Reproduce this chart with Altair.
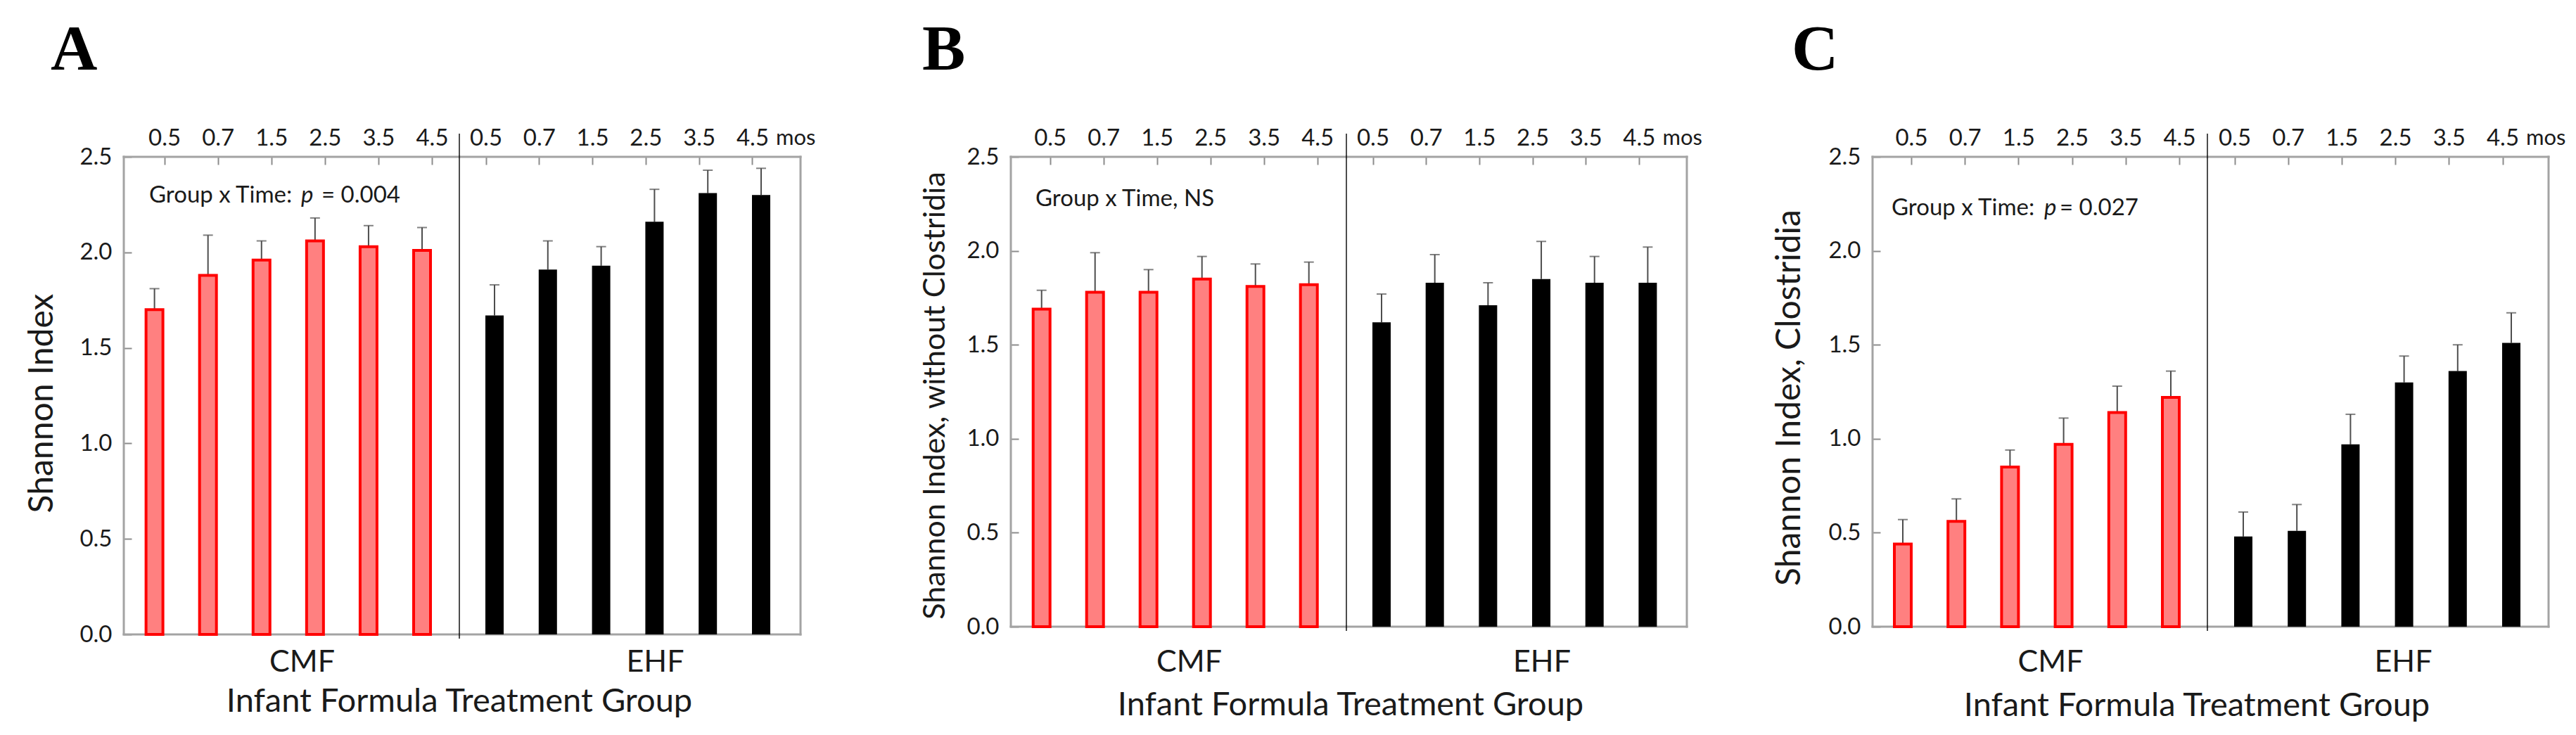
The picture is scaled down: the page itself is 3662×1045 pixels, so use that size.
import altair as alt
import pandas as pd

# ---------------- data ----------------
times = ["0.5", "0.7", "1.5", "2.5", "3.5", "4.5"]
groups = ["CMF", "EHF"]
letters = ["A", "B", "C"]
y_titles = ["Shannon Index", "Shannon Index, without Clostridia", "Shannon Index, Clostridia"]
x_title = "Infant Formula Treatment Group"
notes = [["Group x Time:", "p", "= 0.004"], ["Group x Time, NS"], ["Group x Time:", "p", "= 0.027"]]
unit_label = "mos"
y_ticks = [0.0, 0.5, 1.0, 1.5, 2.0, 2.5]

# Panel A: Shannon Index
a_cmf_mean = [1.70, 1.88, 1.96, 2.06, 2.03, 2.01]
a_cmf_err = [1.81, 2.09, 2.06, 2.18, 2.14, 2.13]
a_ehf_mean = [1.67, 1.91, 1.93, 2.16, 2.31, 2.30]
a_ehf_err = [1.83, 2.06, 2.03, 2.33, 2.43, 2.44]
# Panel B: Shannon Index, without Clostridia
b_cmf_mean = [1.69, 1.78, 1.78, 1.85, 1.81, 1.82]
b_cmf_err = [1.79, 1.99, 1.90, 1.97, 1.93, 1.94]
b_ehf_mean = [1.62, 1.83, 1.71, 1.85, 1.83, 1.83]
b_ehf_err = [1.77, 1.98, 1.83, 2.05, 1.97, 2.02]
# Panel C: Shannon Index, Clostridia
c_cmf_mean = [0.44, 0.56, 0.85, 0.97, 1.14, 1.22]
c_cmf_err = [0.57, 0.68, 0.94, 1.11, 1.28, 1.36]
c_ehf_mean = [0.48, 0.51, 0.97, 1.30, 1.36, 1.51]
c_ehf_err = [0.61, 0.65, 1.13, 1.44, 1.50, 1.67]

means = [[a_cmf_mean, a_ehf_mean], [b_cmf_mean, b_ehf_mean], [c_cmf_mean, c_ehf_mean]]
errs = [[a_cmf_err, a_ehf_err], [b_cmf_err, b_ehf_err], [c_cmf_err, c_ehf_err]]

# ---------------- styling / layout ----------------
FONT = "Lato"
TXT = "#1a1a1a"
FRAME = "#a3a3a3"
TICK = "#8c8c8c"
ERR = "#4d4d4d"
CMF_FILL = "#ff8080"
CMF_STROKE = "#ff0000"
LABEL_FS = 33

layout = [
    dict(W=[477, 485], H=679, first=[43.6, 50.0], last=[53.0, 56.0], shift=[14.0, -12.5],
         letter_dx=-104, ytx=-113, yty=350, ytfs=48, note_y=2.26, note_dx=[-7.6, 208.4, 237.4],
         grp_off=53, grp_dx=[15, 36], xt_off=110, xt_dx=0, gap_after=299),
    dict(W=[477, 484], H=668, first=[43.7, 50.0], last=[53.3, 55.6], shift=[12.0, -12.5],
         letter_dx=-126, ytx=-106, yty=339, ytfs=43, note_y=2.238, note_dx=[-8.7],
         grp_off=64, grp_dx=[15, 36], xt_off=126, xt_dx=6, gap_after=264),
    dict(W=[476, 485], H=668, first=[43.0, 51.0], last=[52.0, 53.0], shift=[12.0, -12.5],
         letter_dx=-115, ytx=-115, yty=342, ytfs=48, note_y=2.19, note_dx=[-16.0, 201.0, 223.0],
         grp_off=64, grp_dx=[15, 36], xt_off=127, xt_dx=-15, gap_after=0),
]

one = pd.DataFrame({"k": [0]})


def hrule(y, x1, x2, color=FRAME, w=3):
    return alt.Chart(one).mark_rule(color=color, strokeWidth=w, strokeCap="square").encode(
        x=alt.value(x1), x2=alt.value(x2), y=alt.value(y))


def vrule(x, y1, y2, color=FRAME, w=3, cap="square"):
    return alt.Chart(one).mark_rule(color=color, strokeWidth=w, strokeCap=cap).encode(
        x=alt.value(x), y=alt.value(y1), y2=alt.value(y2))


def label_text(txt, x, y, size, **kw):
    return alt.Chart(pd.DataFrame({"t": [txt]})).mark_text(
        baseline="alphabetic", fontSize=size, **kw).encode(
        text="t:N", x=alt.value(x), y=alt.value(y))


def band_scale(W, first, last):
    step = (W - first - last) / 5.0
    spare = W - 6 * step
    sc = alt.Scale(domain=times, paddingInner=0, paddingOuter=spare / (2 * step),
                   align=(first - step / 2) / spare)
    return step, sc


def sub_chart(p, gi):
    L = layout[p]
    is_cmf = gi == 0
    W = L["W"][gi]
    H = L["H"]
    step, xscale = band_scale(W, L["first"][gi], L["last"][gi])
    X = alt.X("time:N", sort=times, scale=xscale,
              axis=alt.Axis(orient="top", title=None, labelAngle=0,
                            tickOffset=L["shift"][gi],
                            tickSize=11, tickWidth=2, tickColor=TICK, offset=-11,
                            domain=False, grid=False, labelPadding=17,
                            labelBaseline="alphabetic", labelAlign="center",
                            labelFont=FONT, labelFontSize=LABEL_FS, labelColor=TXT))
    yscale = alt.Scale(domain=[0, 2.5], nice=False, zero=True)
    if is_cmf:
        yaxis = alt.Axis(orient="left", values=y_ticks, format=".1f", tickSize=11, tickWidth=2,
                         tickColor=TICK, offset=-11, domain=False, grid=False, labelPadding=17,
                         labelFont=FONT, labelFontSize=LABEL_FS, labelColor=TXT,
                         title=y_titles[p], titleFont=FONT, titleFontSize=L["ytfs"],
                         titleFontWeight="normal", titleColor=TXT, titleAngle=270,
                         titleX=L["ytx"], titleY=L["yty"], titleAlign="center",
                         titleBaseline="alphabetic")
    else:
        yaxis = None

    def Y(f):
        return alt.Y(f, scale=yscale, axis=yaxis)

    df = pd.DataFrame({"time": times, "mean": means[p][gi], "err": errs[p][gi]})
    base = alt.Chart(df)
    layers = [hrule(0, 0, W), hrule(H, 0, W)]
    if is_cmf:
        layers.append(vrule(0, 0, H))
    else:
        layers.append(vrule(W, 0, H))

    whisk = base.mark_rule(color=ERR, strokeWidth=2).encode(x=X, y=Y("mean:Q"), y2="err:Q")
    cap = base.mark_tick(color=ERR, thickness=2, size=14).encode(x=X, y=Y("err:Q"))
    if is_cmf:
        bars = base.mark_bar(width=24, fill=CMF_FILL, stroke=CMF_STROKE, strokeWidth=4)
    else:
        bars = base.mark_bar(width=26, fill="black", strokeWidth=0)
    bars = bars.encode(x=X, y=Y("mean:Q"))
    layers += [whisk, cap, bars]

    # group label under the plot
    layers.append(label_text(groups[gi], W / 2 + L["grp_dx"][gi], H + L["grp_off"], 43,
                             align="center", font=FONT, color=TXT))

    if is_cmf:
        ndf = pd.DataFrame({"time": [times[0]], "ay": [L["note_y"]]})
        for txt, dx in zip(notes[p], L["note_dx"]):
            layers.append(
                alt.Chart(ndf).mark_text(text=txt, align="left", baseline="alphabetic", dx=dx,
                                         font=FONT, fontSize=33,
                                         fontStyle="italic" if txt == "p" else "normal",
                                         color=TXT).encode(x=X, y=Y("ay:Q")))
        # panel letter
        layers.append(label_text(letters[p], L["letter_dx"], -124, 92, align="left",
                                 font="Liberation Serif", fontWeight="bold", color="black"))
        # common x title, centred on the divider between the two groups
        layers.append(label_text(x_title, W + L["xt_dx"], H + L["xt_off"], 47,
                                 align="center", font=FONT, color=TXT))
    else:
        layers.append(vrule(0, -33, H + 6, color="black", w=1.4, cap="butt"))
        layers.append(
            alt.Chart(pd.DataFrame({"time": [times[-1]], "t": [unit_label]})).mark_text(
                align="left", baseline="alphabetic", dx=21, font=FONT, fontSize=31,
                color=TXT).encode(x=X, y=alt.value(-17), text="t:N"))

    return alt.layer(*layers).properties(width=W, height=H)


def spacer(w, h):
    return alt.Chart(one).mark_point(opacity=0).encode(
        x=alt.value(0), y=alt.value(0)).properties(width=w, height=h)


views = []
for p in range(3):
    views.append(sub_chart(p, 0))
    views.append(sub_chart(p, 1))
    if layout[p]["gap_after"]:
        views.append(spacer(layout[p]["gap_after"], 10))

chart = alt.hconcat(*views, spacing=0, bounds="flush").properties(
    padding={"left": 28, "top": 17, "right": 0, "bottom": 0}
).configure_view(strokeWidth=0)

chart.save("out.html", embed_options={"renderer": "svg", "actions": False})
